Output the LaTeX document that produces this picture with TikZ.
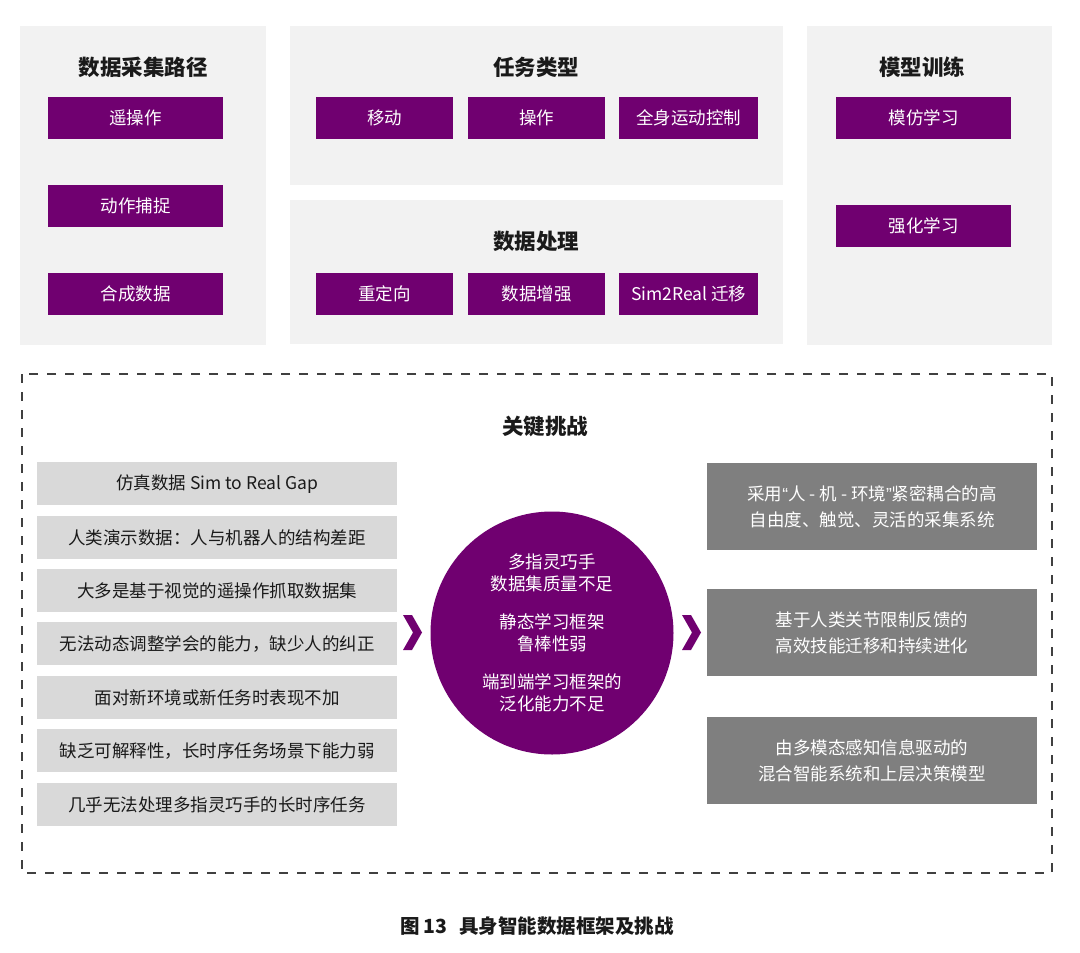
\documentclass[tikz,border=0pt]{standalone}
\usepackage{fontspec}
\setmainfont{Noto Sans CJK SC}
\newfontfamily\latinq{Liberation Sans}
\usetikzlibrary{calc}
\definecolor{pur}{RGB}{112,0,112}
\definecolor{panelgray}{RGB}{242,242,242}
\definecolor{lgray}{RGB}{217,217,217}
\definecolor{dgray}{RGB}{127,127,127}
\definecolor{txt}{RGB}{26,26,26}
\tikzset{
  panel/.style={fill=panelgray,draw=none},
  ptitle/.style={font=\fontsize{21.5}{26}\selectfont\bfseries,text=txt,anchor=center},
  pbox/.style={fill=pur,draw=none,text=white,font=\fontsize{17.5}{21}\selectfont,anchor=north west,inner sep=0pt},
  lbox/.style={fill=lgray,draw=none,text=txt,font=\fontsize{17.5}{21}\selectfont,anchor=north west,inner sep=0pt,minimum width=360pt,minimum height=43pt},
  rbox/.style={fill=dgray,draw=none,text=white,font=\fontsize{17.5}{26}\selectfont,align=center,anchor=north west,inner sep=0pt,minimum width=330pt,minimum height=87pt},
  chev/.style={fill=pur,draw=none},
}
\begin{document}
\begin{tikzpicture}[x=1pt,y=-1pt]
\useasboundingbox[fill=white] (0,0) rectangle (1080,953);
% panels
\fill[panel] (20,26) rectangle (266,345);
\fill[panel] (290,26) rectangle (783,185);
\fill[panel] (290,200) rectangle (783,344);
\fill[panel] (807,26) rectangle (1052,345);
% titles
\node[ptitle] (t1) at (143,67) {数据采集路径};
\node[ptitle] (t2) at (536,67) {任务类型};
\node[ptitle] (t3) at (536,241) {数据处理};
\node[ptitle] (t4) at (922,67) {模型训练};
% panel 1 boxes
\node[pbox,minimum width=175pt,minimum height=42pt] (a1) at (48,97) {遥操作};
\node[pbox,minimum width=175pt,minimum height=42pt] (a2) at (48,185) {动作捕捉};
\node[pbox,minimum width=175pt,minimum height=42pt] (a3) at (48,273) {合成数据};
% panel 2 boxes
\node[pbox,minimum width=137pt,minimum height=42pt] (b1) at (316,97) {移动};
\node[pbox,minimum width=137pt,minimum height=42pt] (b2) at (468,97) {操作};
\node[pbox,minimum width=139pt,minimum height=42pt] (b3) at (619,97) {全身运动控制};
% panel 3 boxes
\node[pbox,minimum width=137pt,minimum height=42pt] (c1) at (316,273) {重定向};
\node[pbox,minimum width=137pt,minimum height=42pt] (c2) at (468,273) {数据增强};
\node[pbox,minimum width=139pt,minimum height=42pt] (c3) at (619,273) {Sim2Real 迁移};
% panel 4 boxes
\node[pbox,minimum width=175pt,minimum height=42pt] (d1) at (836,97) {模仿学习};
\node[pbox,minimum width=175pt,minimum height=42pt] (d2) at (836,205) {强化学习};
% dashed frame
\draw[line width=1.2pt,draw=black!75,dash pattern=on 9pt off 9pt] (22,374) rectangle (1052,873);
\node[ptitle] (kc) at (545,426) {关键挑战};
% left boxes
\node[lbox] (l1) at (37,462) {仿真数据 Sim to Real Gap};
\node[lbox] (l2) at (37,516) {人类演示数据：人与机器人的结构差距};
\node[lbox] (l3) at (37,569) {大多是基于视觉的遥操作抓取数据集};
\node[lbox] (l4) at (37,622) {无法动态调整学会的能力，缺少人的纠正};
\node[lbox] (l5) at (37,676) {面对新环境或新任务时表现不加};
\node[lbox] (l6) at (37,729) {缺乏可解释性，长时序任务场景下能力弱};
\node[lbox] (l7) at (37,783) {几乎无法处理多指灵巧手的长时序任务};
% circle
\node[circle,fill=pur,minimum size=243pt,inner sep=0pt,text=white,
      font=\fontsize{17.5}{21.5}\selectfont,align=center] (cc) at (552,633)
  {多指灵巧手\\数据集质量不足\\[17pt]静态学习框架\\鲁棒性弱\\[17pt]端到端学习框架的\\泛化能力不足};
% chevrons
\fill[chev] (403,615) -- (412,615) -- (422,632.5) -- (412,650) -- (403,650) -- (413,632.5) -- cycle;
\fill[chev] (682,615) -- (691,615) -- (701,632.5) -- (691,650) -- (682,650) -- (692,632.5) -- cycle;
% right boxes
\node[rbox] (r1) at (707,463) {采用{\latinq “}人 - 机 - 环境{\latinq ”}紧密耦合的高\\自由度、触觉、灵活的采集系统};
\node[rbox] (r2) at (707,589) {基于人类关节限制反馈的\\高效技能迁移和持续进化};
\node[rbox] (r3) at (707,717) {由多模态感知信息驱动的\\混合智能系统和上层决策模型};
% caption
\node[font=\fontsize{19.5}{22}\selectfont\bfseries,text=txt] (cap) at (537,926) {图 13\hspace{0.6em}具身智能数据框架及挑战};
\end{tikzpicture}
\end{document}
